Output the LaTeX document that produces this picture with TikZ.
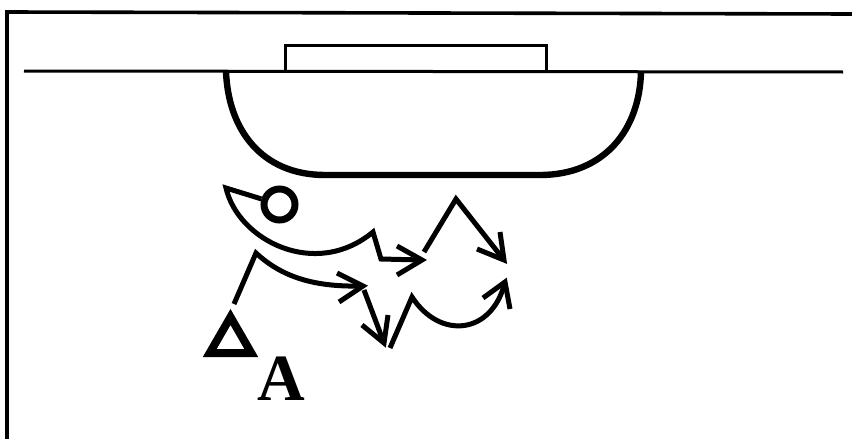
\documentclass[tikz,border=0pt]{standalone}
\usepackage{fontspec}
\setmainfont{Liberation Serif}
\usetikzlibrary{positioning, shapes.geometric}
\tikzset{
  court/.style={line width=3pt},
  leg/.style={line width=5pt, line join=miter, miter limit=8}
}

\begin{document}
\begin{tikzpicture}[x=1pt, y=-1pt]
  \useasboundingbox (0,0) rectangle (852,439);
  % Frame and baseline
  \coordinate (TL) at (7,12);
  \coordinate (TR) at (852,14);
  \coordinate (BL) at (7,439);
  \draw[line width=3.6pt] (BL) -- (TL) -- (TR);
  \coordinate (BaseL) at (24,71);
  \coordinate (BaseR) at (843,72);
  \draw[court] (BaseL) -- (BaseR);
  % Scorer table
  \draw[court] (285.5,71) |- (546,45) -- (546,71);
  % Lane
  \coordinate (LaneL) at (226,71);
  \coordinate (LaneR) at (641,71);
  \draw[line width=6.4pt] (LaneL) .. controls (228,130) and (262,175) .. (325,175) -- (540,175) .. controls (604,175) and (640,130) .. (LaneR);

  % Defender
  \node[circle, draw, line width=7pt, minimum size=31pt, inner sep=0pt] (D) at (279.5,204.5) {};
  \coordinate (DTip) at (226,188);
  \coordinate (DBend) at (373,232);
  \coordinate (DFoot) at (381,259);
  \coordinate (DEnd) at (422,260);
  \draw[leg] (D) -- (DTip) .. controls (238,240) and (315,280) .. (DBend) -- (DFoot) -- (DEnd);
  \draw[leg] (397,246) -- (DEnd) -- (397,275);
  \coordinate (CutA) at (424,252);
  \coordinate (CutB) at (456,199);
  \coordinate (CutC) at (504,260);
  \draw[leg] (CutA) -- (CutB) -- (CutC);
  \draw[leg] (500,232) -- (CutC) -- (477,249);

  % Attacker
  \node[regular polygon, regular polygon sides=3, draw, line width=8pt, minimum size=48pt, inner sep=0pt] (T) at (230.5,341) {};
  \node[font=\bfseries\fontsize{66}{66}\selectfont, inner sep=0pt] (A) at (281,379) {A};
  \coordinate (TTop) at (234,304);
  \coordinate (Elbow) at (256,253);
  \coordinate (PassEnd) at (363,286);
  \draw[leg] (TTop) -- (Elbow) .. controls (285,280) and (320,287) .. (PassEnd);
  \draw[leg] (337,273) -- (PassEnd) -- (339,302);
  \coordinate (DriveA) at (364,290);
  \coordinate (DriveB) at (384,343);
  \draw[leg] (DriveA) -- (DriveB);
  \draw[leg] (388,315) -- (DriveB) -- (362,325);
  \coordinate (DriveC) at (390,348);
  \coordinate (DriveD) at (412,297);
  \coordinate (DriveE) at (505,282);
  \draw[leg] (DriveC) -- (DriveD) .. controls (440,340) and (492,335) .. (DriveE);
  \draw[leg] (483,298) -- (DriveE) -- (510,309);
\end{tikzpicture}
\end{document}
